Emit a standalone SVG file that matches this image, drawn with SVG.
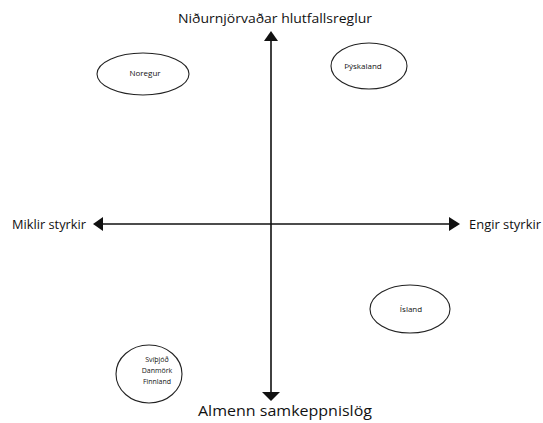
<svg xmlns="http://www.w3.org/2000/svg" width="543" height="423" viewBox="0 0 543 423">
<style>
text{font-family:"Open Sans","Liberation Sans",sans-serif;fill:#111}
.lbl{font-size:12.5px}
.small{font-size:8px;text-anchor:middle}
.node ellipse{fill:#fff;stroke:#222;stroke-width:1.1}
.axis{stroke:#111;stroke-width:1.6;fill:none}
.head{fill:#111}
</style>
<rect width="543" height="423" fill="#fff"/>
<g id="connectors">
<line class="axis" x1="271" y1="40" x2="271" y2="392"/>
<polygon class="head" points="271,31 278,41 264,41"/>
<polygon class="head" points="271,401 280,392 262,392"/>
<line class="axis" x1="102" y1="224" x2="450" y2="224"/>
<polygon class="head" points="93,224 103,217 103,231"/>
<polygon class="head" points="460,224 449,217 449,231"/>
</g>
<g id="axis-labels">
<text class="lbl" x="275" y="23" text-anchor="middle" textLength="194" lengthAdjust="spacingAndGlyphs">Niðurnjörvaðar hlutfallsreglur</text>
<text class="lbl" x="285" y="416" text-anchor="middle" font-size="14" textLength="174" lengthAdjust="spacingAndGlyphs" style="font-size:14px">Almenn samkeppnislög</text>
<text class="lbl" x="12" y="229" textLength="74" lengthAdjust="spacingAndGlyphs">Miklir styrkir</text>
<text class="lbl" x="469" y="229" textLength="72" lengthAdjust="spacingAndGlyphs">Engir styrkir</text>
</g>
<g id="noregur" class="node">
<ellipse cx="143" cy="74" rx="46" ry="21"/>
<text class="small" x="145" y="76">Noregur</text>
</g>
<g id="thyskaland" class="node">
<ellipse cx="369" cy="66" rx="38" ry="23"/>
<text class="small" x="363" y="69">Þýskaland</text>
</g>
<g id="island" class="node">
<ellipse cx="410" cy="309" rx="40" ry="24"/>
<text class="small" x="411" y="312">Ísland</text>
</g>
<g id="nordurlond" class="node">
<ellipse cx="149" cy="374" rx="33" ry="29"/>
<text class="small" x="157" y="362" style="font-size:7px">Svíþjóð</text>
<text class="small" x="157" y="373" style="font-size:7px">Danmörk</text>
<text class="small" x="157" y="384" style="font-size:7px">Finnland</text>
</g>
</svg>
